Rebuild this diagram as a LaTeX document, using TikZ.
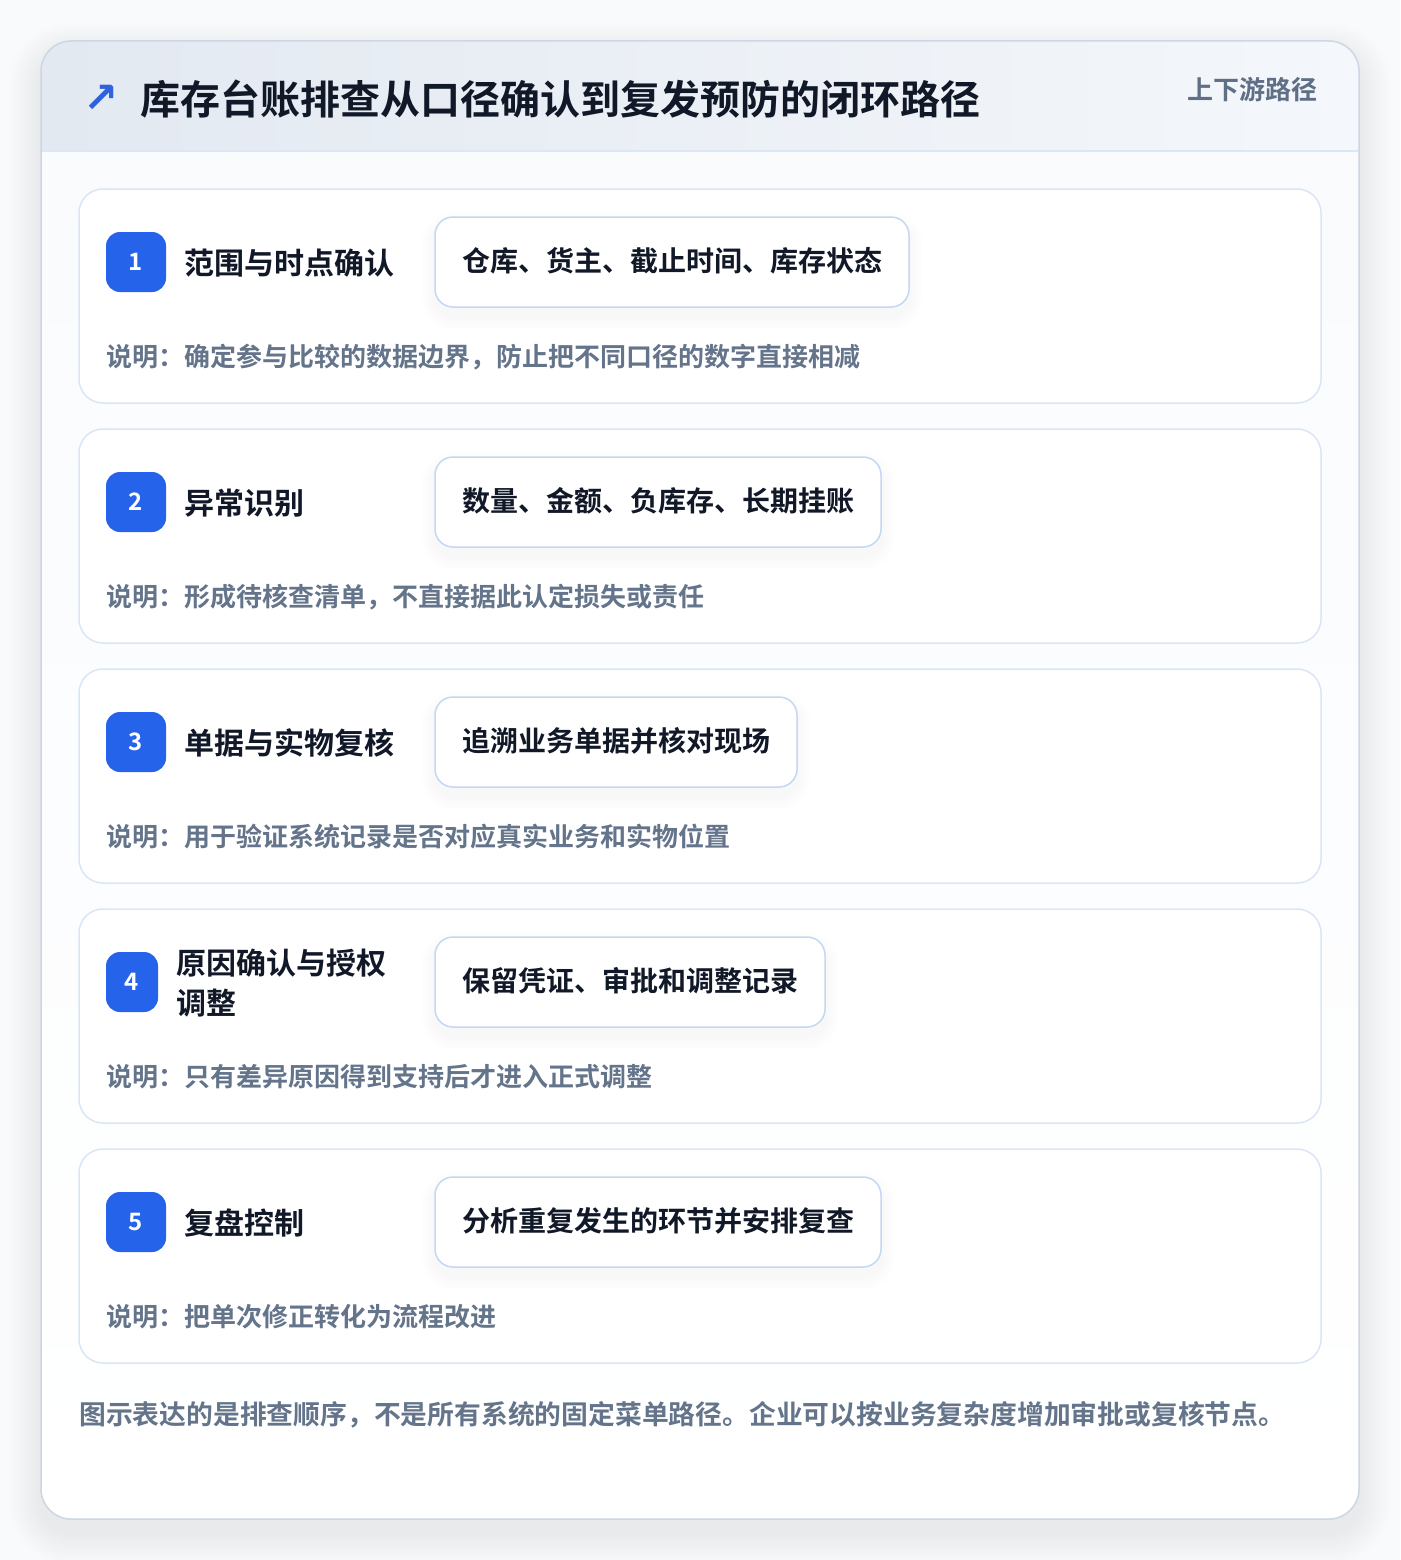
\documentclass[tikz,border=0pt]{standalone}
\usepackage{fontspec}
\setmainfont{Noto Sans CJK SC}[BoldFont={Noto Sans CJK SC Bold}]
\newfontfamily\symfont{DejaVu Sans}
\definecolor{pagebg}{HTML}{F9FAFB}
\definecolor{panelborder}{HTML}{CDD6E4}
\definecolor{headL}{HTML}{E3E9F1}
\definecolor{headR}{HTML}{F4F7FB}
\definecolor{headline}{HTML}{DCE7F5}
\definecolor{bodybg}{HTML}{F9FBFD}
\definecolor{cardborder}{HTML}{D9E6F7}
\definecolor{chipborder}{HTML}{C3D8F3}
\definecolor{badgeblue}{HTML}{2563EB}
\definecolor{titlecol}{HTML}{111827}
\definecolor{mutedcol}{HTML}{64748B}
\definecolor{tagcol}{HTML}{5F6F86}
\definecolor{arrowblue}{HTML}{2F62DB}
\tikzset{
  card/.style={draw=cardborder, line width=1.5pt, fill=white, rounded corners=24pt},
  chip/.style={draw=chipborder, line width=1.5pt, fill=white, rounded corners=18pt},
  badge/.style={fill=badgeblue, rounded corners=14pt, minimum height=60pt, inner sep=0pt,
    text=white, font=\bfseries\fontsize{24}{28}\selectfont},
  steptitle/.style={anchor=west, inner sep=0pt, text=titlecol, font=\bfseries\fontsize{30}{40}\selectfont, align=left},
  chiptext/.style={anchor=west, inner sep=0pt, text=titlecol, font=\bfseries\fontsize{28}{34}\selectfont},
  desc/.style={anchor=west, inner sep=0pt, text=mutedcol, font=\bfseries\fontsize{26}{32}\selectfont},
  shadowlayer/.style={fill=black, opacity=#1},
}
\begin{document}
\begin{tikzpicture}[x=1pt, y=-1pt]
\useasboundingbox (0,0) rectangle (1400,1560);
\fill[pagebg] (0,0) rectangle (1400,1560);
% panel shadow (layered)
\foreach \k in {1,...,16} {
  \pgfmathsetmacro{\e}{2*\k}
  \fill[shadowlayer=0.0045, rounded corners=30pt+\e pt] (41-\e,41-\e+14) rectangle (1359+\e,1519+\e+14);
}
% panel body
\begin{scope}
\clip[rounded corners=30pt] (41,41) rectangle (1359,1519);
\fill[top color=bodybg, bottom color=white] (41,151) rectangle (1359,1519);
\fill[left color=headL, right color=headR] (41,41) rectangle (1359,151);
\draw[headline, line width=1.5pt] (41,151) -- (1359,151);
\end{scope}
\draw[panelborder, line width=1.5pt, rounded corners=30pt] (41,41) rectangle (1359,1519);
% header
\node[anchor=center, inner sep=0pt, text=arrowblue, font=\symfont\bfseries\fontsize{42}{46}\selectfont] (arrow) at (101,99) {↗};
\node[anchor=west, inner sep=0pt, text=titlecol, font=\bfseries\fontsize{40}{48}\selectfont] (title) at (140,99) {库存台账排查从口径确认到复发预防的闭环路径};
\node[anchor=east, inner sep=0pt, text=tagcol, font=\bfseries\fontsize{26}{30}\selectfont] (tag) at (1318,90) {上下游路径};
% cards
\foreach \i/\num/\ttl/\chipw/\chiptxt/\dsc in {
  0/1/范围与时点确认/909/{仓库、货主、截止时间、库存状态}/{说明：确定参与比较的数据边界，防止把不同口径的数字直接相减},
  1/2/异常识别/881/{数量、金额、负库存、长期挂账}/{说明：形成待核查清单，不直接据此认定损失或责任},
  2/3/单据与实物复核/797/{追溯业务单据并核对现场}/{说明：用于验证系统记录是否对应真实业务和实物位置},
  3/4/{原因确认与授权\\调整}/825/{保留凭证、审批和调整记录}/{说明：只有差异原因得到支持后才进入正式调整},
  4/5/复盘控制/881/{分析重复发生的环节并安排复查}/{说明：把单次修正转化为流程改进}} {
  \pgfmathsetmacro{\top}{189+240*\i}
  \draw[card] (79,\top) rectangle (1321,\top+214);
  \foreach \k in {1,...,7} {
    \pgfmathsetmacro{\e}{2*\k}
    \fill[shadowlayer=0.005, rounded corners=18pt+\e pt] (435-\e,\top+28-\e+9) rectangle (\chipw+\e,\top+118+\e+9);
  }
  \draw[chip] (435,\top+28) rectangle (\chipw,\top+118);
  \node[chiptext] (chip\num) at (462,\top+72) {\chiptxt};
  \node[desc] (desc\num) at (106,\top+168) {\dsc};
  \ifnum\num=4
    \node[badge, minimum width=52pt] (badge\num) at (132,\top+73) {\num};
    \node[steptitle] (title\num) at (176,\top+74) {\ttl};
  \else
    \node[badge, minimum width=60pt] (badge\num) at (136,\top+73) {\num};
    \node[steptitle] (title\num) at (184,\top+74) {\ttl};
  \fi
}
% footer
\node[anchor=west, inner sep=0pt, text=mutedcol, font=\bfseries\fontsize{26.8}{32}\selectfont] (foot) at (79,1415) {图示表达的是排查顺序，不是所有系统的固定菜单路径。企业可以按业务复杂度增加审批或复核节点。};
\end{tikzpicture}
\end{document}
